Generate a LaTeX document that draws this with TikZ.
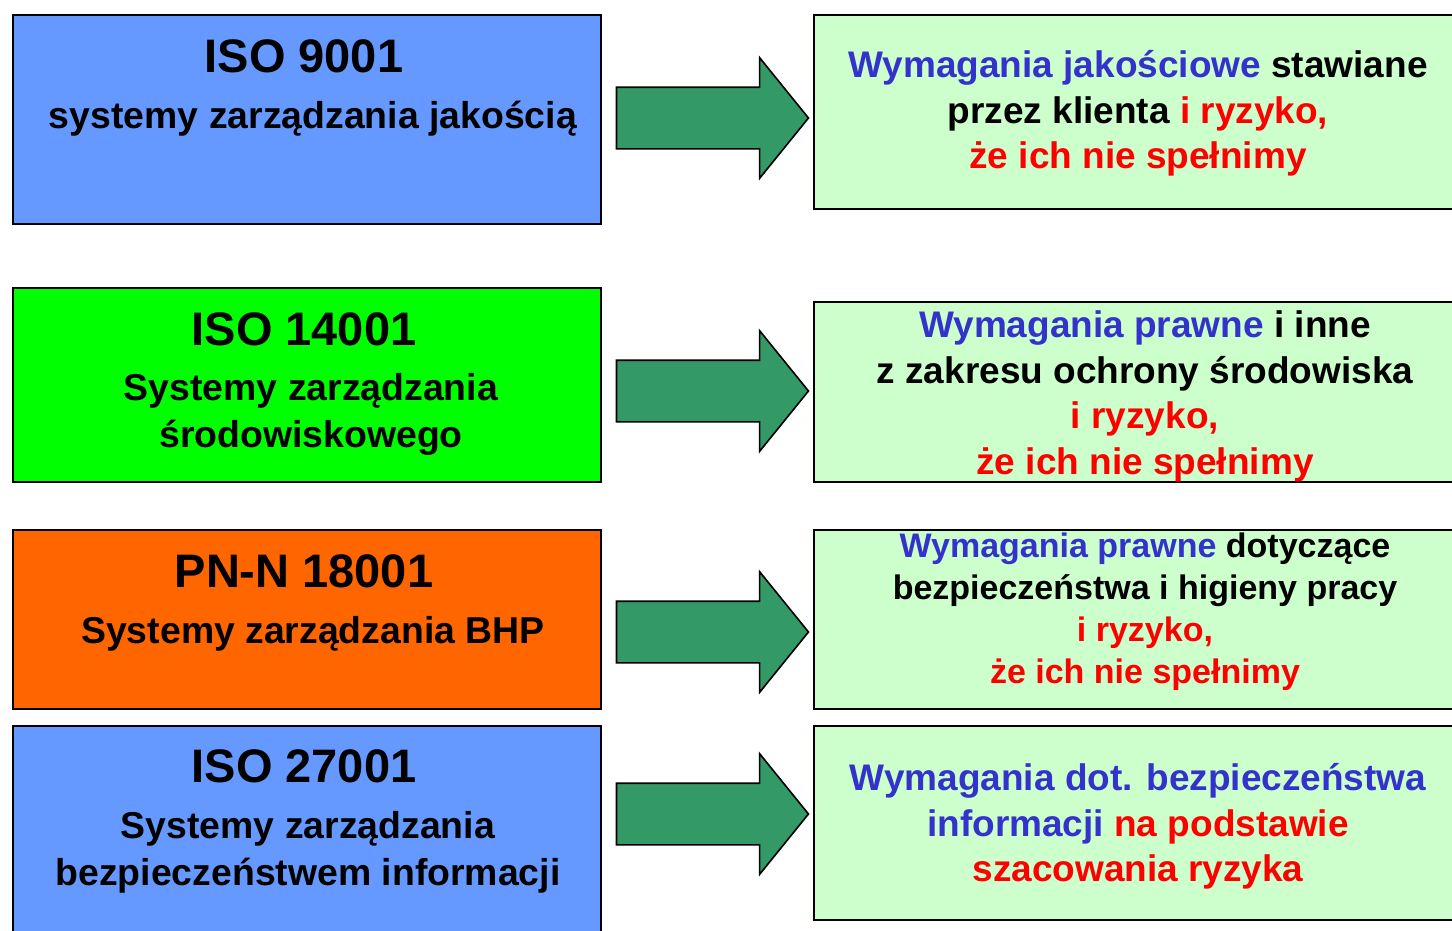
\documentclass[tikz,border=0pt]{standalone}
\usepackage{fontspec}
\setmainfont{Liberation Sans}
\usepackage[dvipsnames]{xcolor}
\usetikzlibrary{positioning,shapes.arrows}

\definecolor{sysblue}{HTML}{6699FF}
\definecolor{sysgreen}{HTML}{00FF00}
\definecolor{sysorange}{HTML}{FF6600}
\definecolor{reqfill}{HTML}{CCFFCC}
\definecolor{arrowgreen}{HTML}{339966}
\definecolor{reqblue}{HTML}{3333CC}
\definecolor{reqred}{HTML}{FF0000}

\begin{document}
\begin{tikzpicture}[x=1pt,y=-1pt,line width=1.6pt,
    sys node/.style={draw,anchor=north west,minimum width=588pt,inner sep=0},
    req node/.style={draw,fill=reqfill,anchor=north west,minimum width=664pt,inner sep=0},
    title node/.style={font=\bfseries\fontsize{47}{52}\selectfont,anchor=base,inner sep=0},
    sub node/.style={font=\bfseries\fontsize{37.4}{47}\selectfont,align=center,inner sep=0},
    req text/.style={font=\bfseries\fontsize{37}{45.5}\selectfont,align=center,anchor=north,inner sep=0},
    big arrow/.style={single arrow,draw,fill=arrowgreen,inner sep=0,inner ysep=30pt,
        minimum height=192pt,single arrow head extend=29.5pt,single arrow tip angle=102,
        single arrow head indent=0pt}]

    \clip (0,0) rectangle (1452,930);

    % standards
    \node[sys node,fill=sysblue,minimum height=209pt] (b1) at (12,14) {};
    \node[sys node,fill=sysgreen,minimum height=194pt] (b2) at (12,287) {};
    \node[sys node,fill=sysorange,minimum height=179pt] (b3) at (12,529) {};
    \node[sys node,fill=sysblue,minimum height=220pt] (b4) at (12,725) {};

    \node[title node] (t1) at (304,72) {ISO 9001};
    \node[sub node,anchor=base] (s1) at (313,128) {systemy zarządzania jakością};
    \node[title node] (t2) at (304,345) {ISO 14001};
    \node[sub node,anchor=north] (s2) at (311,373) {Systemy zarządzania\\ środowiskowego};
    \node[title node] (t3) at (304,587) {PN-N 18001};
    \node[sub node,anchor=base] (s3) at (313,643) {Systemy zarządzania BHP};
    \node[title node] (t4) at (304,782) {ISO 27001};
    \node[sub node,anchor=north] (s4) at (308,811) {Systemy zarządzania\\ bezpieczeństwem informacji};

    % requirements
    \node[req node,minimum height=194pt] (r1) at (813,14) {};
    \node[req node,minimum height=180pt] (r2) at (813,301) {};
    \node[req node,minimum height=179pt] (r3) at (813,529) {};
    \node[req node,minimum height=194pt] (r4) at (813,725) {};

    \node[req text] (q1) at (1138,50) {\textcolor{reqblue}{Wymagania jakościowe} stawiane\\
        przez klienta \textcolor{reqred}{i ryzyko,}\\ \textcolor{reqred}{że ich nie spełnimy}};
    \node[req text] (q2) at (1145,310) {\textcolor{reqblue}{Wymagania prawne} i inne\\
        z zakresu ochrony środowiska\\ \textcolor{reqred}{i ryzyko,}\\ \textcolor{reqred}{że ich nie spełnimy}};
    \node[req text,font=\bfseries\fontsize{34}{42}\selectfont] (q3) at (1145,532) {\textcolor{reqblue}{Wymagania prawne} dotyczące\\
        bezpieczeństwa i higieny pracy\\ \textcolor{reqred}{i ryzyko,}\\ \textcolor{reqred}{że ich nie spełnimy}};
    \node[req text] (q4) at (1138,763) {\textcolor{reqblue}{Wymagania dot. bezpieczeństwa}\\
        \textcolor{reqblue}{informacji} \textcolor{reqred}{na podstawie}\\ \textcolor{reqred}{szacowania ryzyka}};

    % arrows
    \node[big arrow] (a1) at (700,118) {};
    \node[big arrow] (a2) at (700,391) {};
    \node[big arrow] (a3) at (700,632) {};
    \node[big arrow] (a4) at (700,814) {};
\end{tikzpicture}
\end{document}
